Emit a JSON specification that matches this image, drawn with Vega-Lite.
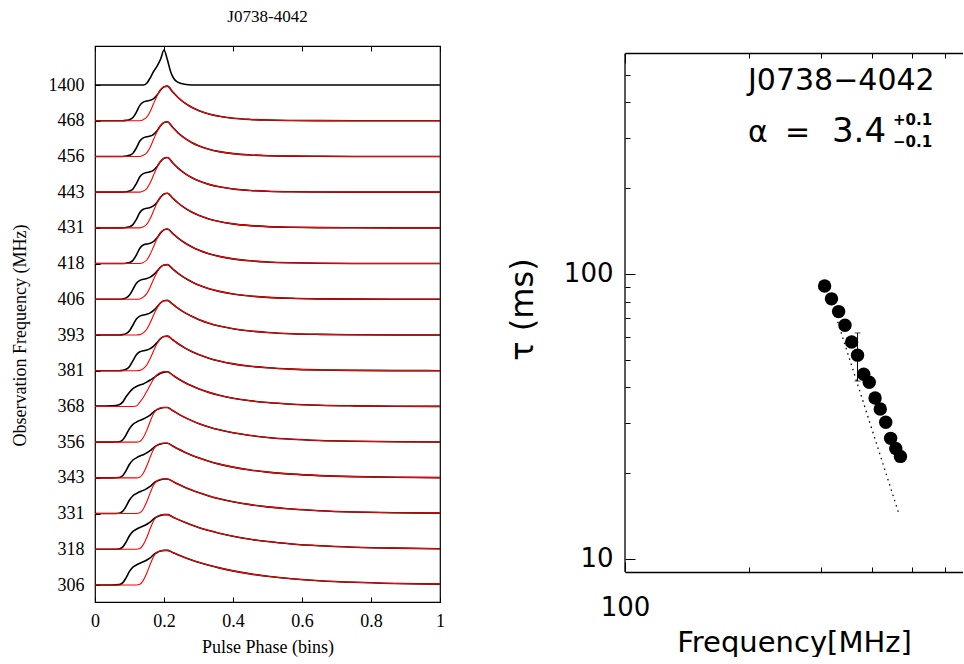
{
"$schema":"https://vega.github.io/schema/vega-lite/v6.json",
"background":"white",
"padding":{"left":10,"top":6,"right":0,"bottom":0},
"spacing":60,
"config":{"view":{"stroke":null},"axis":{"grid":false,"domainColor":"black","tickColor":"black","labelColor":"black","titleColor":"black"}},
"datasets":{
"prof":[
{"f":"1400","p":0,"o":0,"m":null},{"f":"1400","p":0.14,"o":0,"m":null},{"f":"1400","p":0.15,"o":0.05,"m":null},{"f":"1400","p":0.16,"o":0.2,"m":null},{"f":"1400","p":0.17,"o":0.38,"m":null},{"f":"1400","p":0.18,"o":0.53,"m":null},{"f":"1400","p":0.19,"o":0.72,"m":null},{"f":"1400","p":0.2,"o":0.98,"m":null},{"f":"1400","p":0.21,"o":0.7,"m":null},{"f":"1400","p":0.22,"o":0.35,"m":null},{"f":"1400","p":0.23,"o":0.16,"m":null},{"f":"1400","p":0.24,"o":0.08,"m":null},{"f":"1400","p":0.26,"o":0.02,"m":null},{"f":"1400","p":0.28,"o":0,"m":null},{"f":"1400","p":1,"o":0,"m":null},
{"f":"468","p":0,"o":0,"m":0},{"f":"468","p":0.05,"o":0,"m":0},{"f":"468","p":0.07,"o":0,"m":0},{"f":"468","p":0.08,"o":0,"m":0},{"f":"468","p":0.09,"o":0.01,"m":0},{"f":"468","p":0.1,"o":0.03,"m":0},{"f":"468","p":0.11,"o":0.09,"m":0},{"f":"468","p":0.12,"o":0.24,"m":0},{"f":"468","p":0.13,"o":0.43,"m":0},{"f":"468","p":0.14,"o":0.52,"m":0.03},{"f":"468","p":0.15,"o":0.55,"m":0.1},{"f":"468","p":0.16,"o":0.57,"m":0.26},{"f":"468","p":0.17,"o":0.62,"m":0.48},{"f":"468","p":0.18,"o":0.72,"m":0.7},{"f":"468","p":0.19,"o":0.86,"m":0.87},{"f":"468","p":0.2,"o":0.95,"m":0.95},{"f":"468","p":0.21,"o":0.97,"m":0.97},
{"f":"468","p":0.225,"o":0.809,"m":0.809},{"f":"468","p":0.24,"o":0.657,"m":0.657},{"f":"468","p":0.26,"o":0.498,"m":0.498},{"f":"468","p":0.28,"o":0.377,"m":0.377},{"f":"468","p":0.3,"o":0.286,"m":0.286},{"f":"468","p":0.33,"o":0.188,"m":0.188},{"f":"468","p":0.36,"o":0.124,"m":0.124},{"f":"468","p":0.4,"o":0.071,"m":0.071},{"f":"468","p":0.45,"o":0.036,"m":0.036},{"f":"468","p":0.5,"o":0.018,"m":0.018},{"f":"468","p":0.57,"o":0.007,"m":0.007},{"f":"468","p":0.65,"o":0.002,"m":0.002},{"f":"468","p":0.75,"o":0,"m":0},{"f":"468","p":0.87,"o":0,"m":0},{"f":"468","p":1,"o":0,"m":0},
{"f":"456","p":0,"o":0,"m":0},{"f":"456","p":0.05,"o":0,"m":0},{"f":"456","p":0.07,"o":0,"m":0},{"f":"456","p":0.08,"o":0,"m":0},{"f":"456","p":0.09,"o":0.01,"m":0},{"f":"456","p":0.1,"o":0.03,"m":0},{"f":"456","p":0.11,"o":0.09,"m":0},{"f":"456","p":0.12,"o":0.24,"m":0},{"f":"456","p":0.13,"o":0.43,"m":0},{"f":"456","p":0.14,"o":0.52,"m":0.03},{"f":"456","p":0.15,"o":0.55,"m":0.1},{"f":"456","p":0.16,"o":0.57,"m":0.26},{"f":"456","p":0.17,"o":0.62,"m":0.48},{"f":"456","p":0.18,"o":0.72,"m":0.7},{"f":"456","p":0.19,"o":0.86,"m":0.87},{"f":"456","p":0.2,"o":0.95,"m":0.95},{"f":"456","p":0.21,"o":0.97,"m":0.97},
{"f":"456","p":0.225,"o":0.816,"m":0.816},{"f":"456","p":0.24,"o":0.668,"m":0.668},{"f":"456","p":0.26,"o":0.511,"m":0.511},{"f":"456","p":0.28,"o":0.392,"m":0.392},{"f":"456","p":0.3,"o":0.3,"m":0.3},{"f":"456","p":0.33,"o":0.201,"m":0.201},{"f":"456","p":0.36,"o":0.135,"m":0.135},{"f":"456","p":0.4,"o":0.079,"m":0.079},{"f":"456","p":0.45,"o":0.041,"m":0.041},{"f":"456","p":0.5,"o":0.021,"m":0.021},{"f":"456","p":0.57,"o":0.008,"m":0.008},{"f":"456","p":0.65,"o":0.003,"m":0.003},{"f":"456","p":0.75,"o":0,"m":0},{"f":"456","p":0.87,"o":0,"m":0},{"f":"456","p":1,"o":0,"m":0},
{"f":"443","p":0,"o":0,"m":0},{"f":"443","p":0.05,"o":0,"m":0},{"f":"443","p":0.07,"o":0,"m":0},{"f":"443","p":0.08,"o":0,"m":0},{"f":"443","p":0.09,"o":0.01,"m":0},{"f":"443","p":0.1,"o":0.03,"m":0},{"f":"443","p":0.11,"o":0.09,"m":0},{"f":"443","p":0.12,"o":0.24,"m":0},{"f":"443","p":0.13,"o":0.43,"m":0},{"f":"443","p":0.14,"o":0.52,"m":0.03},{"f":"443","p":0.15,"o":0.55,"m":0.1},{"f":"443","p":0.16,"o":0.57,"m":0.26},{"f":"443","p":0.17,"o":0.62,"m":0.48},{"f":"443","p":0.18,"o":0.72,"m":0.7},{"f":"443","p":0.19,"o":0.86,"m":0.87},{"f":"443","p":0.2,"o":0.95,"m":0.95},{"f":"443","p":0.21,"o":0.97,"m":0.97},
{"f":"443","p":0.225,"o":0.823,"m":0.823},{"f":"443","p":0.24,"o":0.681,"m":0.681},{"f":"443","p":0.26,"o":0.528,"m":0.528},{"f":"443","p":0.28,"o":0.41,"m":0.41},{"f":"443","p":0.3,"o":0.318,"m":0.318},{"f":"443","p":0.33,"o":0.218,"m":0.218},{"f":"443","p":0.36,"o":0.149,"m":0.149},{"f":"443","p":0.4,"o":0.09,"m":0.09},{"f":"443","p":0.45,"o":0.048,"m":0.048},{"f":"443","p":0.5,"o":0.025,"m":0.025},{"f":"443","p":0.57,"o":0.01,"m":0.01},{"f":"443","p":0.65,"o":0.004,"m":0.004},{"f":"443","p":0.75,"o":0.001,"m":0.001},{"f":"443","p":0.87,"o":0,"m":0},{"f":"443","p":1,"o":0,"m":0},
{"f":"431","p":0,"o":0,"m":0},{"f":"431","p":0.05,"o":0,"m":0},{"f":"431","p":0.07,"o":0,"m":0},{"f":"431","p":0.08,"o":0,"m":0},{"f":"431","p":0.09,"o":0.01,"m":0},{"f":"431","p":0.1,"o":0.03,"m":0},{"f":"431","p":0.11,"o":0.09,"m":0},{"f":"431","p":0.12,"o":0.24,"m":0},{"f":"431","p":0.13,"o":0.43,"m":0},{"f":"431","p":0.14,"o":0.52,"m":0.03},{"f":"431","p":0.15,"o":0.55,"m":0.1},{"f":"431","p":0.16,"o":0.57,"m":0.26},{"f":"431","p":0.17,"o":0.62,"m":0.48},{"f":"431","p":0.18,"o":0.72,"m":0.7},{"f":"431","p":0.19,"o":0.86,"m":0.87},{"f":"431","p":0.2,"o":0.95,"m":0.95},{"f":"431","p":0.21,"o":0.97,"m":0.97},
{"f":"431","p":0.225,"o":0.835,"m":0.835},{"f":"431","p":0.24,"o":0.703,"m":0.703},{"f":"431","p":0.26,"o":0.559,"m":0.559},{"f":"431","p":0.28,"o":0.444,"m":0.444},{"f":"431","p":0.3,"o":0.353,"m":0.353},{"f":"431","p":0.33,"o":0.25,"m":0.25},{"f":"431","p":0.36,"o":0.177,"m":0.177},{"f":"431","p":0.4,"o":0.112,"m":0.112},{"f":"431","p":0.45,"o":0.063,"m":0.063},{"f":"431","p":0.5,"o":0.035,"m":0.035},{"f":"431","p":0.57,"o":0.016,"m":0.016},{"f":"431","p":0.65,"o":0.006,"m":0.006},{"f":"431","p":0.75,"o":0.002,"m":0.002},{"f":"431","p":0.87,"o":0,"m":0},{"f":"431","p":1,"o":0,"m":0},
{"f":"418","p":0,"o":0,"m":0},{"f":"418","p":0.05,"o":0,"m":0},{"f":"418","p":0.07,"o":0,"m":0},{"f":"418","p":0.08,"o":0,"m":0},{"f":"418","p":0.09,"o":0.01,"m":0},{"f":"418","p":0.1,"o":0.03,"m":0},{"f":"418","p":0.11,"o":0.09,"m":0},{"f":"418","p":0.12,"o":0.24,"m":0},{"f":"418","p":0.13,"o":0.43,"m":0},{"f":"418","p":0.14,"o":0.52,"m":0.03},{"f":"418","p":0.15,"o":0.55,"m":0.1},{"f":"418","p":0.16,"o":0.57,"m":0.26},{"f":"418","p":0.17,"o":0.62,"m":0.48},{"f":"418","p":0.18,"o":0.72,"m":0.7},{"f":"418","p":0.19,"o":0.86,"m":0.87},{"f":"418","p":0.2,"o":0.95,"m":0.95},{"f":"418","p":0.21,"o":0.97,"m":0.97},
{"f":"418","p":0.225,"o":0.845,"m":0.845},{"f":"418","p":0.24,"o":0.72,"m":0.72},{"f":"418","p":0.26,"o":0.582,"m":0.582},{"f":"418","p":0.28,"o":0.471,"m":0.471},{"f":"418","p":0.3,"o":0.38,"m":0.38},{"f":"418","p":0.33,"o":0.276,"m":0.276},{"f":"418","p":0.36,"o":0.201,"m":0.201},{"f":"418","p":0.4,"o":0.131,"m":0.131},{"f":"418","p":0.45,"o":0.077,"m":0.077},{"f":"418","p":0.5,"o":0.045,"m":0.045},{"f":"418","p":0.57,"o":0.022,"m":0.022},{"f":"418","p":0.65,"o":0.009,"m":0.009},{"f":"418","p":0.75,"o":0.003,"m":0.003},{"f":"418","p":0.87,"o":0.001,"m":0.001},{"f":"418","p":1,"o":0,"m":0},
{"f":"406","p":0,"o":0,"m":0},{"f":"406","p":0.05,"o":0,"m":0},{"f":"406","p":0.07,"o":0,"m":0},{"f":"406","p":0.08,"o":0.01,"m":0},{"f":"406","p":0.09,"o":0.04,"m":0},{"f":"406","p":0.1,"o":0.12,"m":0},{"f":"406","p":0.11,"o":0.28,"m":0},{"f":"406","p":0.12,"o":0.45,"m":0},{"f":"406","p":0.13,"o":0.53,"m":0.01},{"f":"406","p":0.14,"o":0.56,"m":0.06},{"f":"406","p":0.15,"o":0.58,"m":0.16},{"f":"406","p":0.16,"o":0.62,"m":0.34},{"f":"406","p":0.17,"o":0.69,"m":0.56},{"f":"406","p":0.18,"o":0.79,"m":0.76},{"f":"406","p":0.19,"o":0.9,"m":0.9},{"f":"406","p":0.2,"o":0.96,"m":0.96},{"f":"406","p":0.21,"o":0.97,"m":0.97},
{"f":"406","p":0.225,"o":0.852,"m":0.852},{"f":"406","p":0.24,"o":0.733,"m":0.733},{"f":"406","p":0.26,"o":0.6,"m":0.6},{"f":"406","p":0.28,"o":0.492,"m":0.492},{"f":"406","p":0.3,"o":0.402,"m":0.402},{"f":"406","p":0.33,"o":0.298,"m":0.298},{"f":"406","p":0.36,"o":0.221,"m":0.221},{"f":"406","p":0.4,"o":0.148,"m":0.148},{"f":"406","p":0.45,"o":0.09,"m":0.09},{"f":"406","p":0.5,"o":0.054,"m":0.054},{"f":"406","p":0.57,"o":0.027,"m":0.027},{"f":"406","p":0.65,"o":0.012,"m":0.012},{"f":"406","p":0.75,"o":0.004,"m":0.004},{"f":"406","p":0.87,"o":0.001,"m":0.001},{"f":"406","p":1,"o":0,"m":0},
{"f":"393","p":0,"o":0,"m":0},{"f":"393","p":0.05,"o":0,"m":0},{"f":"393","p":0.07,"o":0,"m":0},{"f":"393","p":0.08,"o":0.01,"m":0},{"f":"393","p":0.09,"o":0.04,"m":0},{"f":"393","p":0.1,"o":0.12,"m":0},{"f":"393","p":0.11,"o":0.28,"m":0},{"f":"393","p":0.12,"o":0.45,"m":0},{"f":"393","p":0.13,"o":0.53,"m":0.01},{"f":"393","p":0.14,"o":0.56,"m":0.06},{"f":"393","p":0.15,"o":0.58,"m":0.16},{"f":"393","p":0.16,"o":0.62,"m":0.34},{"f":"393","p":0.17,"o":0.69,"m":0.56},{"f":"393","p":0.18,"o":0.79,"m":0.76},{"f":"393","p":0.19,"o":0.9,"m":0.9},{"f":"393","p":0.2,"o":0.96,"m":0.96},{"f":"393","p":0.21,"o":0.97,"m":0.97},
{"f":"393","p":0.225,"o":0.862,"m":0.862},{"f":"393","p":0.24,"o":0.752,"m":0.752},{"f":"393","p":0.26,"o":0.627,"m":0.627},{"f":"393","p":0.28,"o":0.523,"m":0.523},{"f":"393","p":0.3,"o":0.436,"m":0.436},{"f":"393","p":0.33,"o":0.332,"m":0.332},{"f":"393","p":0.36,"o":0.253,"m":0.253},{"f":"393","p":0.4,"o":0.176,"m":0.176},{"f":"393","p":0.45,"o":0.111,"m":0.111},{"f":"393","p":0.5,"o":0.071,"m":0.071},{"f":"393","p":0.57,"o":0.037,"m":0.037},{"f":"393","p":0.65,"o":0.018,"m":0.018},{"f":"393","p":0.75,"o":0.007,"m":0.007},{"f":"393","p":0.87,"o":0.002,"m":0.002},{"f":"393","p":1,"o":0.001,"m":0.001},
{"f":"381","p":0,"o":0,"m":0},{"f":"381","p":0.05,"o":0,"m":0},{"f":"381","p":0.07,"o":0,"m":0},{"f":"381","p":0.08,"o":0.01,"m":0},{"f":"381","p":0.09,"o":0.04,"m":0},{"f":"381","p":0.1,"o":0.12,"m":0},{"f":"381","p":0.11,"o":0.28,"m":0},{"f":"381","p":0.12,"o":0.45,"m":0},{"f":"381","p":0.13,"o":0.53,"m":0.01},{"f":"381","p":0.14,"o":0.56,"m":0.06},{"f":"381","p":0.15,"o":0.58,"m":0.16},{"f":"381","p":0.16,"o":0.62,"m":0.34},{"f":"381","p":0.17,"o":0.69,"m":0.56},{"f":"381","p":0.18,"o":0.79,"m":0.76},{"f":"381","p":0.19,"o":0.9,"m":0.9},{"f":"381","p":0.2,"o":0.96,"m":0.96},{"f":"381","p":0.21,"o":0.97,"m":0.97},
{"f":"381","p":0.225,"o":0.867,"m":0.867},{"f":"381","p":0.24,"o":0.762,"m":0.762},{"f":"381","p":0.26,"o":0.641,"m":0.641},{"f":"381","p":0.28,"o":0.54,"m":0.54},{"f":"381","p":0.3,"o":0.454,"m":0.454},{"f":"381","p":0.33,"o":0.351,"m":0.351},{"f":"381","p":0.36,"o":0.271,"m":0.271},{"f":"381","p":0.4,"o":0.192,"m":0.192},{"f":"381","p":0.45,"o":0.125,"m":0.125},{"f":"381","p":0.5,"o":0.081,"m":0.081},{"f":"381","p":0.57,"o":0.044,"m":0.044},{"f":"381","p":0.65,"o":0.022,"m":0.022},{"f":"381","p":0.75,"o":0.009,"m":0.009},{"f":"381","p":0.87,"o":0.003,"m":0.003},{"f":"381","p":1,"o":0.001,"m":0.001},
{"f":"368","p":0,"o":0.01,"m":0},{"f":"368","p":0.05,"o":0.02,"m":0},{"f":"368","p":0.07,"o":0.05,"m":0},{"f":"368","p":0.08,"o":0.12,"m":0},{"f":"368","p":0.09,"o":0.27,"m":0},{"f":"368","p":0.1,"o":0.4,"m":0},{"f":"368","p":0.11,"o":0.5,"m":0},{"f":"368","p":0.12,"o":0.56,"m":0.01},{"f":"368","p":0.13,"o":0.6,"m":0.12},{"f":"368","p":0.14,"o":0.63,"m":0.25},{"f":"368","p":0.15,"o":0.68,"m":0.42},{"f":"368","p":0.16,"o":0.74,"m":0.6},{"f":"368","p":0.17,"o":0.8,"m":0.77},{"f":"368","p":0.18,"o":0.87,"m":0.89},{"f":"368","p":0.19,"o":0.93,"m":0.95},{"f":"368","p":0.2,"o":0.96,"m":0.97},{"f":"368","p":0.21,"o":0.97,"m":0.97},
{"f":"368","p":0.225,"o":0.878,"m":0.878},{"f":"368","p":0.24,"o":0.783,"m":0.783},{"f":"368","p":0.26,"o":0.672,"m":0.672},{"f":"368","p":0.28,"o":0.577,"m":0.577},{"f":"368","p":0.3,"o":0.495,"m":0.495},{"f":"368","p":0.33,"o":0.394,"m":0.394},{"f":"368","p":0.36,"o":0.313,"m":0.313},{"f":"368","p":0.4,"o":0.231,"m":0.231},{"f":"368","p":0.45,"o":0.158,"m":0.158},{"f":"368","p":0.5,"o":0.108,"m":0.108},{"f":"368","p":0.57,"o":0.063,"m":0.063},{"f":"368","p":0.65,"o":0.034,"m":0.034},{"f":"368","p":0.75,"o":0.016,"m":0.016},{"f":"368","p":0.87,"o":0.006,"m":0.006},{"f":"368","p":1,"o":0.002,"m":0.002},
{"f":"356","p":0,"o":0,"m":0},{"f":"356","p":0.05,"o":0,"m":0},{"f":"356","p":0.07,"o":0.01,"m":0},{"f":"356","p":0.08,"o":0.06,"m":0},{"f":"356","p":0.09,"o":0.2,"m":0},{"f":"356","p":0.1,"o":0.38,"m":0},{"f":"356","p":0.11,"o":0.5,"m":0},{"f":"356","p":0.12,"o":0.56,"m":0},{"f":"356","p":0.13,"o":0.61,"m":0.02},{"f":"356","p":0.14,"o":0.65,"m":0.13},{"f":"356","p":0.15,"o":0.7,"m":0.33},{"f":"356","p":0.16,"o":0.76,"m":0.58},{"f":"356","p":0.17,"o":0.85,"m":0.8},{"f":"356","p":0.18,"o":0.91,"m":0.92},{"f":"356","p":0.19,"o":0.95,"m":0.96},{"f":"356","p":0.2,"o":0.97,"m":0.97},{"f":"356","p":0.21,"o":0.97,"m":0.97},
{"f":"356","p":0.225,"o":0.886,"m":0.886},{"f":"356","p":0.24,"o":0.798,"m":0.798},{"f":"356","p":0.26,"o":0.693,"m":0.693},{"f":"356","p":0.28,"o":0.603,"m":0.603},{"f":"356","p":0.3,"o":0.524,"m":0.524},{"f":"356","p":0.33,"o":0.425,"m":0.425},{"f":"356","p":0.36,"o":0.345,"m":0.345},{"f":"356","p":0.4,"o":0.261,"m":0.261},{"f":"356","p":0.45,"o":0.184,"m":0.184},{"f":"356","p":0.5,"o":0.129,"m":0.129},{"f":"356","p":0.57,"o":0.079,"m":0.079},{"f":"356","p":0.65,"o":0.045,"m":0.045},{"f":"356","p":0.75,"o":0.023,"m":0.023},{"f":"356","p":0.87,"o":0.01,"m":0.01},{"f":"356","p":1,"o":0.004,"m":0.004},
{"f":"343","p":0,"o":0,"m":0},{"f":"343","p":0.05,"o":0,"m":0},{"f":"343","p":0.07,"o":0.01,"m":0},{"f":"343","p":0.08,"o":0.06,"m":0},{"f":"343","p":0.09,"o":0.2,"m":0},{"f":"343","p":0.1,"o":0.38,"m":0},{"f":"343","p":0.11,"o":0.5,"m":0},{"f":"343","p":0.12,"o":0.56,"m":0},{"f":"343","p":0.13,"o":0.61,"m":0.02},{"f":"343","p":0.14,"o":0.65,"m":0.13},{"f":"343","p":0.15,"o":0.7,"m":0.33},{"f":"343","p":0.16,"o":0.76,"m":0.58},{"f":"343","p":0.17,"o":0.85,"m":0.8},{"f":"343","p":0.18,"o":0.91,"m":0.92},{"f":"343","p":0.19,"o":0.95,"m":0.96},{"f":"343","p":0.2,"o":0.97,"m":0.97},{"f":"343","p":0.21,"o":0.97,"m":0.97},
{"f":"343","p":0.225,"o":0.894,"m":0.894},{"f":"343","p":0.24,"o":0.814,"m":0.814},{"f":"343","p":0.26,"o":0.719,"m":0.719},{"f":"343","p":0.28,"o":0.634,"m":0.634},{"f":"343","p":0.3,"o":0.56,"m":0.56},{"f":"343","p":0.33,"o":0.464,"m":0.464},{"f":"343","p":0.36,"o":0.385,"m":0.385},{"f":"343","p":0.4,"o":0.3,"m":0.3},{"f":"343","p":0.45,"o":0.219,"m":0.219},{"f":"343","p":0.5,"o":0.16,"m":0.16},{"f":"343","p":0.57,"o":0.104,"m":0.104},{"f":"343","p":0.65,"o":0.063,"m":0.063},{"f":"343","p":0.75,"o":0.034,"m":0.034},{"f":"343","p":0.87,"o":0.016,"m":0.016},{"f":"343","p":1,"o":0.007,"m":0.007},
{"f":"331","p":0,"o":0,"m":0},{"f":"331","p":0.05,"o":0,"m":0},{"f":"331","p":0.07,"o":0.01,"m":0},{"f":"331","p":0.08,"o":0.06,"m":0},{"f":"331","p":0.09,"o":0.2,"m":0},{"f":"331","p":0.1,"o":0.38,"m":0},{"f":"331","p":0.11,"o":0.5,"m":0},{"f":"331","p":0.12,"o":0.56,"m":0},{"f":"331","p":0.13,"o":0.61,"m":0.02},{"f":"331","p":0.14,"o":0.65,"m":0.13},{"f":"331","p":0.15,"o":0.7,"m":0.33},{"f":"331","p":0.16,"o":0.76,"m":0.58},{"f":"331","p":0.17,"o":0.85,"m":0.8},{"f":"331","p":0.18,"o":0.91,"m":0.92},{"f":"331","p":0.19,"o":0.95,"m":0.96},{"f":"331","p":0.2,"o":0.97,"m":0.97},{"f":"331","p":0.21,"o":0.97,"m":0.97},
{"f":"331","p":0.225,"o":0.901,"m":0.901},{"f":"331","p":0.24,"o":0.827,"m":0.827},{"f":"331","p":0.26,"o":0.738,"m":0.738},{"f":"331","p":0.28,"o":0.658,"m":0.658},{"f":"331","p":0.3,"o":0.588,"m":0.588},{"f":"331","p":0.33,"o":0.495,"m":0.495},{"f":"331","p":0.36,"o":0.417,"m":0.417},{"f":"331","p":0.4,"o":0.332,"m":0.332},{"f":"331","p":0.45,"o":0.25,"m":0.25},{"f":"331","p":0.5,"o":0.188,"m":0.188},{"f":"331","p":0.57,"o":0.126,"m":0.126},{"f":"331","p":0.65,"o":0.08,"m":0.08},{"f":"331","p":0.75,"o":0.045,"m":0.045},{"f":"331","p":0.87,"o":0.023,"m":0.023},{"f":"331","p":1,"o":0.011,"m":0.011},
{"f":"318","p":0,"o":0,"m":0},{"f":"318","p":0.05,"o":0,"m":0},{"f":"318","p":0.07,"o":0.01,"m":0},{"f":"318","p":0.08,"o":0.06,"m":0},{"f":"318","p":0.09,"o":0.2,"m":0},{"f":"318","p":0.1,"o":0.38,"m":0},{"f":"318","p":0.11,"o":0.5,"m":0},{"f":"318","p":0.12,"o":0.56,"m":0},{"f":"318","p":0.13,"o":0.61,"m":0.02},{"f":"318","p":0.14,"o":0.65,"m":0.13},{"f":"318","p":0.15,"o":0.7,"m":0.33},{"f":"318","p":0.16,"o":0.76,"m":0.58},{"f":"318","p":0.17,"o":0.85,"m":0.8},{"f":"318","p":0.18,"o":0.91,"m":0.92},{"f":"318","p":0.19,"o":0.95,"m":0.96},{"f":"318","p":0.2,"o":0.97,"m":0.97},{"f":"318","p":0.21,"o":0.97,"m":0.97},
{"f":"318","p":0.225,"o":0.906,"m":0.906},{"f":"318","p":0.24,"o":0.838,"m":0.838},{"f":"318","p":0.26,"o":0.755,"m":0.755},{"f":"318","p":0.28,"o":0.681,"m":0.681},{"f":"318","p":0.3,"o":0.613,"m":0.613},{"f":"318","p":0.33,"o":0.525,"m":0.525},{"f":"318","p":0.36,"o":0.449,"m":0.449},{"f":"318","p":0.4,"o":0.364,"m":0.364},{"f":"318","p":0.45,"o":0.281,"m":0.281},{"f":"318","p":0.5,"o":0.216,"m":0.216},{"f":"318","p":0.57,"o":0.15,"m":0.15},{"f":"318","p":0.65,"o":0.099,"m":0.099},{"f":"318","p":0.75,"o":0.059,"m":0.059},{"f":"318","p":0.87,"o":0.032,"m":0.032},{"f":"318","p":1,"o":0.016,"m":0.016},
{"f":"306","p":0,"o":0,"m":0},{"f":"306","p":0.05,"o":0,"m":0},{"f":"306","p":0.07,"o":0.01,"m":0},{"f":"306","p":0.08,"o":0.06,"m":0},{"f":"306","p":0.09,"o":0.2,"m":0},{"f":"306","p":0.1,"o":0.38,"m":0},{"f":"306","p":0.11,"o":0.5,"m":0},{"f":"306","p":0.12,"o":0.56,"m":0},{"f":"306","p":0.13,"o":0.61,"m":0.02},{"f":"306","p":0.14,"o":0.65,"m":0.13},{"f":"306","p":0.15,"o":0.7,"m":0.33},{"f":"306","p":0.16,"o":0.76,"m":0.58},{"f":"306","p":0.17,"o":0.85,"m":0.8},{"f":"306","p":0.18,"o":0.91,"m":0.92},{"f":"306","p":0.19,"o":0.95,"m":0.96},{"f":"306","p":0.2,"o":0.97,"m":0.97},{"f":"306","p":0.21,"o":0.97,"m":0.97},
{"f":"306","p":0.225,"o":0.912,"m":0.912},{"f":"306","p":0.24,"o":0.849,"m":0.849},{"f":"306","p":0.26,"o":0.772,"m":0.772},{"f":"306","p":0.28,"o":0.702,"m":0.702},{"f":"306","p":0.3,"o":0.638,"m":0.638},{"f":"306","p":0.33,"o":0.553,"m":0.553},{"f":"306","p":0.36,"o":0.479,"m":0.479},{"f":"306","p":0.4,"o":0.396,"m":0.396},{"f":"306","p":0.45,"o":0.312,"m":0.312},{"f":"306","p":0.5,"o":0.246,"m":0.246},{"f":"306","p":0.57,"o":0.176,"m":0.176},{"f":"306","p":0.65,"o":0.12,"m":0.12},{"f":"306","p":0.75,"o":0.075,"m":0.075},{"f":"306","p":0.87,"o":0.042,"m":0.042},{"f":"306","p":1,"o":0.023,"m":0.023}
],
"tau":[{"f":306,"t":90.8},{"f":318,"t":81.8},{"f":331,"t":73.8},{"f":343,"t":66.1},{"f":356,"t":57.7},{"f":368,"t":51.9},{"f":381,"t":44.5},{"f":393,"t":41.7},{"f":406,"t":36.7},{"f":418,"t":33.6},{"f":431,"t":30.2},{"f":443,"t":26.5},{"f":456,"t":24.4},{"f":468,"t":22.9}],
"err":[{"f":368,"lo":42.1,"hi":62.1}],
"fit":[{"f":329.2,"t":68.0},{"f":464.9,"t":14.27}]
},
"hconcat":[
{
"width":345,"height":556,
"view":{"stroke":"black","strokeWidth":1.2},
"title":{"text":"J0738-4042","font":"Liberation Serif","fontSize":17,"fontWeight":"normal","offset":20,"color":"black"},
"data":{"name":"prof"},
"resolve":{"axis":{"x":"independent","y":"independent"}},
"layer":[
{"mark":{"type":"line","color":"black","strokeWidth":1.6,"interpolate":"monotone"},
"encoding":{
"x":{"field":"p","type":"quantitative","scale":{"domain":[0,1],"nice":false},"axis":{"orient":"bottom","values":[0,0.2,0.4,0.6,0.8,1],"format":"~g","title":"Pulse Phase (bins)","labelFont":"Liberation Serif","labelFontSize":18,"titleFont":"Liberation Serif","titleFontSize":18,"titleFontWeight":"normal","tickSize":-5,"labelPadding":15,"labelFlush":false,"titlePadding":8,"domain":false}},
"y":{"field":"f","type":"ordinal","sort":["1400","468","456","443","431","418","406","393","381","368","356","343","331","318","306"],"scale":{"type":"point","range":[39,539],"padding":0},"axis":{"orient":"left","title":"Observation Frequency (MHz)","labelFont":"Liberation Serif","labelFontSize":18,"titleFont":"Liberation Serif","titleFontSize":18,"titleFontWeight":"normal","tickSize":-5,"labelPadding":16,"titlePadding":19,"domain":false}},
"yOffset":{"field":"o","type":"quantitative","scale":{"domain":[0,1],"range":[0,-35.7]}},
"detail":{"field":"f"},
"order":{"field":"p","type":"quantitative"}
}},
{"mark":{"type":"line","color":"#ff0000","strokeWidth":1.1,"interpolate":"monotone"},
"encoding":{
"x":{"field":"p","type":"quantitative","scale":{"domain":[0,1],"nice":false},"axis":{"orient":"top","values":[0,0.2,0.4,0.6,0.8,1],"labels":false,"title":null,"tickSize":-5,"domain":false}},
"y":{"field":"f","type":"ordinal","sort":["1400","468","456","443","431","418","406","393","381","368","356","343","331","318","306"],"scale":{"type":"point","range":[39,539],"padding":0},"axis":null},
"yOffset":{"field":"m","type":"quantitative","scale":{"domain":[0,1],"range":[0,-35.7]}},
"detail":{"field":"f"},
"order":{"field":"p","type":"quantitative"}
}}
]
},
{
"width":338,"height":526,
"resolve":{"axis":{"x":"independent","y":"independent"}},
"layer":[
{"data":{"name":"fit"},"mark":{"type":"line","color":"black","strokeWidth":1.3,"strokeDash":[1.5,4]},
"encoding":{
"x":{"field":"f","type":"quantitative","scale":{"type":"log","domain":[100,664.5],"nice":false},"axis":{"orient":"top","offset":-7,"values":[100,200,300,400,500,600],"labels":false,"title":null,"tickSize":{"condition":{"test":"datum.value == 100","value":-10},"value":-5},"domainWidth":1.3}},
"y":{"field":"t","type":"quantitative","scale":{"type":"log","domain":[9,631],"nice":false},"axis":null}
}},
{"data":{"values":[{}]},"mark":{"type":"rule","color":"black","strokeWidth":1.3},
"encoding":{
"x":{"datum":100,"type":"quantitative","scale":{"type":"log","domain":[100,664.5],"nice":false},"axis":null},
"y":{"datum":9,"type":"quantitative","scale":{"type":"log","domain":[9,631],"nice":false},"axis":null},
"y2":{"datum":594}
}},
{"data":{"name":"err"},"mark":{"type":"errorbar","ticks":{"size":6,"color":"black"},"color":"black"},
"encoding":{
"x":{"field":"f","type":"quantitative","scale":{"type":"log","domain":[100,664.5],"nice":false},"axis":null},
"y":{"field":"lo","type":"quantitative","scale":{"type":"log","domain":[9,631],"nice":false},"axis":null},
"y2":{"field":"hi"}
}},
{"data":{"name":"tau"},"mark":{"type":"point","filled":true,"shape":"circle","size":180,"color":"black","opacity":1},
"encoding":{
"x":{"field":"f","type":"quantitative","scale":{"type":"log","domain":[100,664.5],"nice":false},"axis":{"orient":"bottom","values":[100,200,300,400,500,600],"labelExpr":"datum.value == 100 ? '100' : ''","labelFont":"DejaVu Sans","labelFontSize":26,"labelFlush":false,"labelPadding":32,"tickSize":{"condition":{"test":"datum.value == 100","value":-10},"value":-5},"title":"Frequency[MHz]","titleFont":"DejaVu Sans","titleFontSize":29,"titleFontWeight":"normal","titlePadding":8,"domainWidth":1.3}},
"y":{"field":"t","type":"quantitative","scale":{"type":"log","domain":[9,631],"nice":false},"axis":{"orient":"left","values":[10,20,30,40,50,60,70,80,90,100,200,300,400,500],"labelExpr":"(datum.value == 10 || datum.value == 100) ? '' + datum.value : ''","labelFont":"DejaVu Sans","labelFontSize":26,"labelFlush":false,"labelPadding":22,"tickSize":{"condition":{"test":"datum.value == 10 || datum.value == 100","value":-10},"value":-5},"title":"τ (ms)","titleFont":"DejaVu Sans","titleFontSize":32,"titleFontWeight":"normal","titlePadding":24,"domain":false}}
}},
{"data":{"values":[{}]},"mark":{"type":"text","font":"DejaVu Sans","fontSize":30,"align":"left","baseline":"alphabetic","color":"black"},
"encoding":{"x":{"datum":199.2,"type":"quantitative","scale":{"type":"log","domain":[100,664.5],"nice":false},"axis":null},"y":{"datum":442,"type":"quantitative","scale":{"type":"log","domain":[9,631],"nice":false},"axis":null},"text":{"value":"J0738−4042"}}},
{"data":{"values":[{}]},"mark":{"type":"text","font":"DejaVu Sans","fontSize":30,"align":"left","baseline":"alphabetic","color":"black"},
"encoding":{"x":{"datum":199.2,"type":"quantitative","scale":{"type":"log","domain":[100,664.5],"nice":false},"axis":null},"y":{"datum":291,"type":"quantitative","scale":{"type":"log","domain":[9,631],"nice":false},"axis":null},"text":{"value":"α"}}},
{"data":{"values":[{}]},"mark":{"type":"text","font":"DejaVu Sans","fontSize":30,"align":"left","baseline":"alphabetic","color":"black"},
"encoding":{"x":{"datum":245.1,"type":"quantitative","scale":{"type":"log","domain":[100,664.5],"nice":false},"axis":null},"y":{"datum":291,"type":"quantitative","scale":{"type":"log","domain":[9,631],"nice":false},"axis":null},"text":{"value":"="}}},
{"data":{"values":[{}]},"mark":{"type":"text","font":"DejaVu Sans","fontSize":34,"align":"left","baseline":"alphabetic","color":"black"},
"encoding":{"x":{"datum":318.9,"type":"quantitative","scale":{"type":"log","domain":[100,664.5],"nice":false},"axis":null},"y":{"datum":291,"type":"quantitative","scale":{"type":"log","domain":[9,631],"nice":false},"axis":null},"text":{"value":"3.4"}}},
{"data":{"values":[{}]},"mark":{"type":"text","font":"DejaVu Sans","fontSize":15,"fontWeight":"bold","align":"left","baseline":"alphabetic","color":"black"},
"encoding":{"x":{"datum":448.8,"type":"quantitative","scale":{"type":"log","domain":[100,664.5],"nice":false},"axis":null},"y":{"datum":333,"type":"quantitative","scale":{"type":"log","domain":[9,631],"nice":false},"axis":null},"text":{"value":"+0.1"}}},
{"data":{"values":[{}]},"mark":{"type":"text","font":"DejaVu Sans","fontSize":15,"fontWeight":"bold","align":"left","baseline":"alphabetic","color":"black"},
"encoding":{"x":{"datum":448.8,"type":"quantitative","scale":{"type":"log","domain":[100,664.5],"nice":false},"axis":null},"y":{"datum":278,"type":"quantitative","scale":{"type":"log","domain":[9,631],"nice":false},"axis":null},"text":{"value":"−0.1"}}}
]
}
]
}
